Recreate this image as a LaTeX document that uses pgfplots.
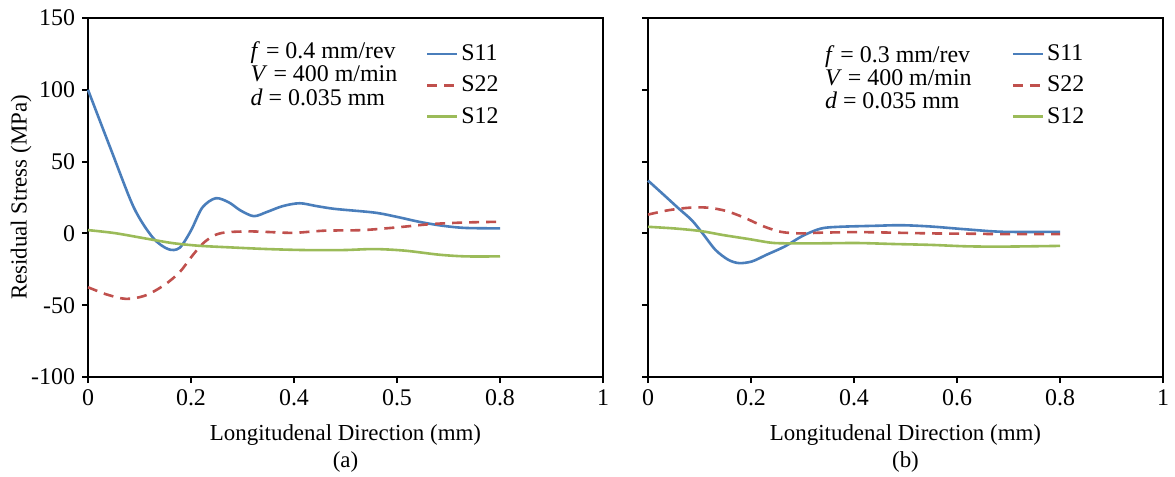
\documentclass[border=0pt]{standalone}
\usepackage{pgfplots}
\pgfplotsset{compat=1.18}
\usepackage{fontspec}
\setmainfont{Liberation Serif}
\definecolor{sblue}{HTML}{4A7EBB}
\definecolor{sred}{HTML}{C0504D}
\definecolor{sgreen}{HTML}{9BBB59}
\pgfplotsset{
  panel/.style={
    scale only axis, width=257.5bp, height=179.5bp,
    xmin=0, xmax=1, ymin=-100, ymax=150,
    axis line style={line width=1.2bp},
    tick style={line width=1bp, black},
    tick align=outside, major tick length=3bp,
    xtick={0,0.2,0.4,0.6,0.8,1},
    ytick={-100,-50,0,50,100,150},
    xtick pos=bottom, ytick pos=left,
    font=\fontsize{11.5}{13}\selectfont,
    tick label style={font=\fontsize{12}{13}\selectfont},
    /pgf/number format/assume math mode=true,
    xlabel={Longitudenal Direction (mm)},
    xlabel style={at={(axis description cs:0.5,-0.162)}, anchor=center},
    clip=false,
    legend style={draw=none, fill=none, font=\fontsize{12}{13}\selectfont, row sep=3.2bp, inner sep=0pt,
      nodes={inner sep=1.5bp}},
    legend cell align=left,
    legend image code/.code={\draw[#1] (0bp,0bp) -- (15bp,0bp);},
  },
  s11/.style={sblue, line width=1.3bp, smooth},
  s22/.style={sred, line width=1.3bp, smooth, dash pattern=on 5bp off 3.5bp},
  s12/.style={sgreen, line width=1.3bp, smooth},
}
\begin{document}
\begin{tikzpicture}
\useasboundingbox (0,0) rectangle (587.5bp,238.5bp);
\begin{axis}[panel, at={(44bp,50bp)}, anchor=south west,
  xticklabels={0,0.2,0.4,0.5,0.8,1},
  yticklabels={-100,-50,0,50,100,150},
  ylabel={Residual Stress (MPa)},
  ylabel style={at={(axis description cs:-0.13,0.5)}, anchor=center},
  legend style={at={(axis description cs:0.655,0.935)}, anchor=north west}]
\addplot[s11] coordinates {(0,100) (0.045,58) (0.089,18) (0.126,-3) (0.156,-11) (0.178,-10) (0.2,2) (0.222,18) (0.248,24.5) (0.274,21.5) (0.296,16) (0.322,12) (0.348,15) (0.378,19) (0.411,21) (0.444,19) (0.481,17) (0.556,14.5) (0.6,11.5) (0.644,8) (0.689,5.3) (0.733,3.8) (0.8,3.5)};
\addlegendentry{S11}
\addplot[s22] coordinates {(0,-37.5) (0.037,-42.6) (0.074,-45.6) (0.111,-43.3) (0.148,-36) (0.178,-27) (0.2,-16.7) (0.222,-7.4) (0.244,-1.6) (0.267,0.7) (0.311,1.4) (0.348,1) (0.4,0.4) (0.459,1.9) (0.533,2.3) (0.6,4.2) (0.667,6.5) (0.733,7.6) (0.8,8.1)};
\addlegendentry{S22}
\addplot[s12] coordinates {(0,2.3) (0.052,0.2) (0.111,-3.5) (0.163,-6.7) (0.215,-8.6) (0.274,-9.7) (0.348,-10.9) (0.422,-11.6) (0.496,-11.6) (0.556,-10.9) (0.615,-12) (0.681,-14.8) (0.733,-16) (0.8,-16)};
\addlegendentry{S12}
\node[anchor=north west, align=left, inner sep=0pt, font=\fontsize{12}{11.7}\selectfont] at (axis description cs:0.315,0.935)
  {\textit{f} = 0.4 mm/rev\\\textit{V} = 400 m/min\\\textit{d} = 0.035 mm};
\node[font=\fontsize{11.5}{13}\selectfont] at (axis description cs:0.5,-0.237) {(a)};
\end{axis}
\begin{axis}[panel, at={(324bp,50bp)}, anchor=south west,
  xticklabels={0,0.2,0.4,0.6,0.8,1},
  yticklabels={},
  legend style={at={(axis description cs:0.705,0.935)}, anchor=north west}]
\addplot[s11] coordinates {(0,36.8) (0.032,26.4) (0.06,17.2) (0.085,9.2) (0.106,0) (0.131,-11.5) (0.156,-18.4) (0.177,-20.7) (0.202,-19.5) (0.23,-14.9) (0.265,-9.2) (0.301,-1.6) (0.336,3.4) (0.372,4.6) (0.442,5.3) (0.492,5.7) (0.549,4.8) (0.619,2.8) (0.69,1.1) (0.8,1.1)};
\addlegendentry{S11}
\addplot[s22] coordinates {(0,13.1) (0.039,16.1) (0.081,17.9) (0.117,17.9) (0.152,15.6) (0.188,10.8) (0.223,5.1) (0.258,1.1) (0.294,0) (0.336,0.5) (0.407,0.9) (0.478,0.5) (0.549,0) (0.619,-0.2) (0.69,-0.5) (0.8,-0.5)};
\addlegendentry{S22}
\addplot[s12] coordinates {(0,4.6) (0.053,3.4) (0.103,1.6) (0.145,-1.1) (0.195,-3.9) (0.237,-6.4) (0.265,-6.9) (0.336,-6.9) (0.407,-6.7) (0.478,-7.4) (0.549,-8) (0.619,-9) (0.69,-9.2) (0.8,-8.7)};
\addlegendentry{S12}
\node[anchor=north west, align=left, inner sep=0pt, font=\fontsize{12}{11.7}\selectfont] at (axis description cs:0.343,0.925)
  {\textit{f} = 0.3 mm/rev\\\textit{V} = 400 m/min\\\textit{d} = 0.035 mm};
\node[font=\fontsize{11.5}{13}\selectfont] at (axis description cs:0.5,-0.237) {(b)};
\end{axis}
\end{tikzpicture}
\end{document}
